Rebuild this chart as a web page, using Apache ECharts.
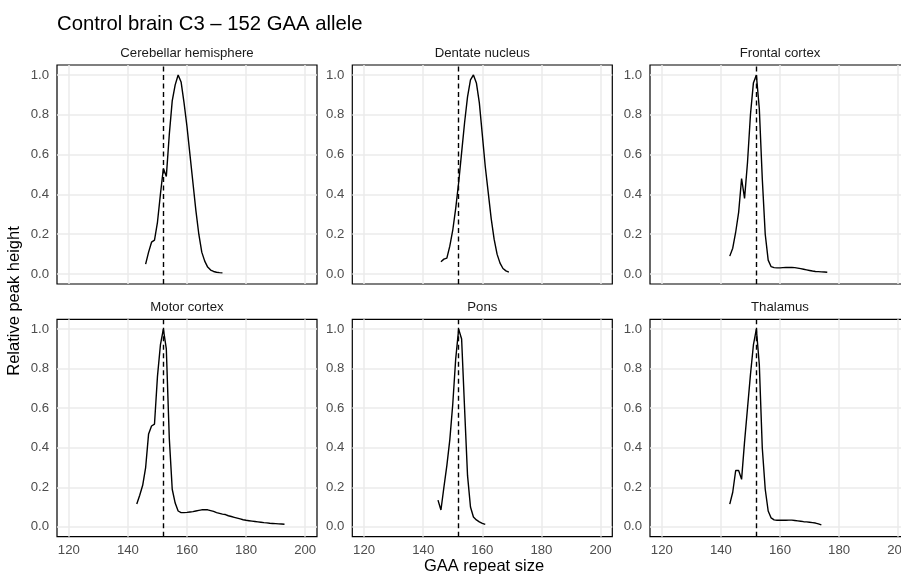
<!DOCTYPE html>
<html>
<head>
<meta charset="utf-8">
<script src="https://cdn.jsdelivr.net/npm/echarts@6/dist/echarts.min.js"></script>
<style>html,body{margin:0;padding:0;background:#fff}#c{width:901px;height:578px}</style>
</head>
<body>
<div id="c"></div>
<script>
const chartTitle = "Control brain C3 \u2013 152 GAA allele";
const xTitle = "GAA repeat size";
const yTitle = "Relative peak height";
const alleleSize = 152;
const panelNames = ["Cerebellar hemisphere","Dentate nucleus","Frontal cortex","Motor cortex","Pons","Thalamus"];
const xTicks = [120,140,160,180,200];
const yTicks = [0,0.2,0.4,0.6,0.8,1.0];

const cerebellarSize = [146,147,148,149,150,151,152,153,154,155,156,157,158,159,160,161,162,163,164,165,166,167,168,169,170,171,172];
const cerebellarHeight = [0.05,0.11,0.16,0.17,0.26,0.40,0.53,0.49,0.70,0.87,0.95,1.0,0.965,0.86,0.74,0.60,0.46,0.32,0.20,0.11,0.065,0.035,0.02,0.013,0.009,0.007,0.006];

const dentateSize = [146,147,148,149,150,151,152,153,154,155,156,157,158,159,160,161,162,163,164,165,166,167,168,169];
const dentateHeight = [0.062,0.075,0.08,0.14,0.22,0.33,0.46,0.61,0.76,0.89,0.975,1.0,0.96,0.86,0.70,0.54,0.41,0.28,0.175,0.10,0.055,0.028,0.016,0.01];

const frontalSize = [143,144,145,146,147,148,149,150,151,152,153,154,155,156,157,158,159,160,161,162,163,164,165,166,167,168,169,170,171,172,173,174,175,176];
const frontalHeight = [0.09,0.13,0.21,0.31,0.48,0.38,0.56,0.80,0.96,1.0,0.83,0.48,0.20,0.07,0.037,0.032,0.031,0.031,0.032,0.033,0.033,0.033,0.032,0.03,0.027,0.024,0.021,0.018,0.015,0.013,0.012,0.011,0.01,0.009];

const motorSize = [143,144,145,146,147,148,149,150,151,152,153,154,155,156,157,158,159,160,161,162,163,164,165,166,167,168,169,170,171,172,173,174,175,176,177,178,179,180,181,182,183,184,185,186,187,188,189,190,191,192,193];
const motorHeight = [0.115,0.16,0.21,0.30,0.47,0.51,0.52,0.76,0.92,1.0,0.90,0.45,0.19,0.12,0.08,0.072,0.072,0.073,0.075,0.077,0.08,0.083,0.086,0.087,0.086,0.082,0.078,0.072,0.068,0.064,0.062,0.056,0.052,0.048,0.044,0.04,0.036,0.033,0.031,0.029,0.027,0.025,0.023,0.021,0.02,0.018,0.017,0.016,0.015,0.014,0.013];

const ponsSize = [145,146,147,148,149,150,151,152,153,154,155,156,157,158,159,160,161];
const ponsHeight = [0.135,0.085,0.20,0.31,0.44,0.62,0.85,1.0,0.95,0.60,0.26,0.10,0.05,0.035,0.025,0.017,0.012];

const thalamusSize = [143,144,145,146,147,148,149,150,151,152,153,154,155,156,157,158,159,160,161,162,163,164,165,166,167,168,169,170,171,172,173,174];
const thalamusHeight = [0.115,0.175,0.285,0.285,0.24,0.43,0.60,0.77,0.92,1.0,0.82,0.40,0.19,0.08,0.045,0.035,0.033,0.033,0.033,0.033,0.034,0.034,0.032,0.03,0.028,0.026,0.025,0.023,0.021,0.019,0.015,0.01];

const panelSizes = [cerebellarSize, dentateSize, frontalSize, motorSize, ponsSize, thalamusSize];
const panelHeights = [cerebellarHeight, dentateHeight, frontalHeight, motorHeight, ponsHeight, thalamusHeight];

const FONT = "'Liberation Sans', Arial, Helvetica, sans-serif";
const colLeft = [57, 352.3, 650];
const colWidth = 260;
const rowTop = [65, 319.3];
const rowHeight = [219, 217.4];

const grids = [], xAxes = [], yAxes = [], series = [], graphics = [];
for (let i = 0; i < 6; i++) {
  const c = i % 3, r = Math.floor(i / 3);
  grids.push({left: colLeft[c], top: rowTop[r], width: colWidth, height: rowHeight[r],
    outerBoundsMode: 'none', containLabel: false,
    show: true, borderColor: '#000', borderWidth: 1.2, backgroundColor: 'transparent'});
  xAxes.push({type: 'value', gridIndex: i, min: 116, max: 204,
    axisLine: {show: false}, axisTick: {show: false, customValues: xTicks},
    axisLabel: {show: r === 1, customValues: xTicks, color: '#4d4d4d', fontSize: 13.2, fontFamily: FONT, margin: 7},
    splitLine: {show: true, lineStyle: {color: '#ebebeb', width: 1.5}}});
  yAxes.push({type: 'value', gridIndex: i, min: -0.05, max: 1.05,
    axisLine: {show: false}, axisTick: {show: false, customValues: yTicks},
    axisLabel: {show: true, customValues: yTicks, color: '#4d4d4d', fontSize: 13.2, fontFamily: FONT, margin: 8,
      formatter: v => Number(v).toFixed(1)},
    splitLine: {show: true, lineStyle: {color: '#ebebeb', width: 1.5}}});
  const pts = panelSizes[i].map((s, k) => [s, panelHeights[i][k]]);
  series.push({type: 'line', xAxisIndex: i, yAxisIndex: i, data: pts, showSymbol: false, symbol: 'none',
    lineStyle: {color: '#000', width: 1.4}, silent: true, animation: false, z: 3,
    markLine: {silent: true, symbol: 'none', label: {show: false}, animation: false,
      lineStyle: {color: '#000', type: [5, 3.5], width: 1.4},
      data: [{xAxis: alleleSize}]}});
  graphics.push({type: 'text', x: colLeft[c] + colWidth / 2, y: rowTop[r] - 12,
    style: {text: panelNames[i], fill: '#1a1a1a', font: '13.2px ' + FONT, textAlign: 'center', textVerticalAlign: 'middle'}});
}
graphics.push({type: 'text', x: 484, y: 566,
  style: {text: xTitle, fill: '#000', font: '16.5px ' + FONT, textAlign: 'center', textVerticalAlign: 'middle'}});
graphics.push({type: 'text', x: 14, y: 301, rotation: Math.PI / 2,
  style: {text: yTitle, fill: '#000', font: '16.5px ' + FONT, textAlign: 'center', textVerticalAlign: 'middle'}});

const chart = echarts.init(document.getElementById('c'), null, {renderer: 'canvas'});
chart.setOption({
  backgroundColor: '#fff',
  animation: false,
  title: {text: chartTitle, left: 52, top: 9,
    textStyle: {color: '#000', fontSize: 20.3, fontWeight: 'normal', fontFamily: FONT}},
  grid: grids, xAxis: xAxes, yAxis: yAxes, series: series, graphic: graphics
});
</script>
</body>
</html>
